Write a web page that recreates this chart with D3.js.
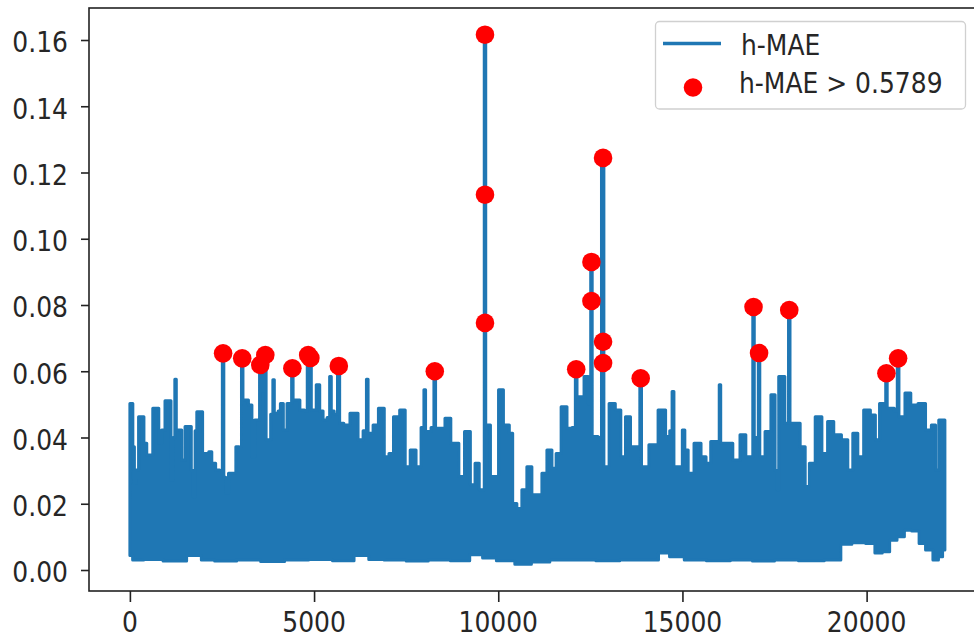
<!DOCTYPE html>
<html><head><meta charset="utf-8">
<script src="https://cdn.jsdelivr.net/npm/d3@7"></script>
<style>
html,body{margin:0;padding:0;background:#fff;overflow:hidden;}
svg{display:block;}
text{font-family:"DejaVu Sans",sans-serif;fill:#262626;}
</style></head>
<body>
<svg id="chart" width="974" height="639"></svg>
<script>
// ---- data ----
// upper contour of the h-MAE trace: [sample index, value]
const hmaeTop = [[0,0.0503],[60,0.0503],[100,0.0372],[145,0.0262],[200,0.0302],[272,0.0463],[345,0.0463],[417,0.0383],[499,0.0347],[590,0.0347],[653,0.0488],[753,0.0488],[817,0.0383],[908,0.0423],[998,0.0511],[1089,0.0511],[1143,0.0272],[1200,0.0400],[1240,0.0576],[1280,0.0423],[1361,0.0423],[1452,0.0332],[1543,0.0433],[1634,0.0433],[1700,0.0300],[1742,0.0221],[1800,0.0420],[1833,0.0478],[1933,0.0478],[2015,0.0352],[2105,0.0352],[2178,0.0357],[2269,0.0322],[2387,0.0302],[2490,0.0300],[2530,0.0654],[2570,0.0280],[2632,0.0232],[2723,0.0292],[2831,0.0292],[2922,0.0372],[3010,0.0370],[3049,0.0639],[3090,0.0513],[3170,0.0513],[3267,0.0498],[3358,0.0342],[3421,0.0453],[3500,0.0453],[3540,0.0619],[3600,0.0540],[3676,0.0649],[3720,0.0393],[3784,0.0393],[3860,0.0470],[3902,0.0574],[3940,0.0473],[3993,0.0473],[4060,0.0480],[4111,0.0503],[4220,0.0423],[4311,0.0503],[4370,0.0503],[4411,0.0609],[4450,0.0513],[4538,0.0513],[4692,0.0483],[4790,0.0480],[4840,0.0649],[4900,0.0640],[4950,0.0483],[4991,0.0483],[5127,0.0559],[5180,0.0480],[5309,0.0453],[5400,0.0460],[5445,0.0584],[5490,0.0480],[5600,0.0470],[5672,0.0616],[5717,0.0443],[5899,0.0438],[6050,0.0473],[6126,0.0473],[6262,0.0393],[6400,0.0420],[6443,0.0576],[6490,0.0413],[6534,0.0413],[6670,0.0438],[6824,0.0488],[6988,0.0342],[7079,0.0352],[7233,0.0463],[7415,0.0483],[7533,0.0312],[7687,0.0362],[7850,0.0312],[7960,0.0430],[8004,0.0544],[8050,0.0418],[8122,0.0418],[8230,0.0430],[8277,0.0604],[8320,0.0428],[8440,0.0428],[8667,0.0458],[8758,0.0383],[8876,0.0383],[8985,0.0282],[9184,0.0418],[9302,0.0257],[9438,0.0322],[9529,0.0242],[9600,0.0242],[9640,0.1616],[9680,0.0438],[9729,0.0438],[9847,0.0282],[9956,0.0282],[10060,0.0544],[10101,0.0544],[10180,0.0438],[10255,0.0438],[10346,0.0413],[10437,0.0201],[10573,0.0186],[10709,0.0242],[10845,0.0312],[10981,0.0227],[11117,0.0227],[11253,0.0292],[11389,0.0362],[11526,0.0307],[11616,0.0352],[11798,0.0493],[11934,0.0428],[12070,0.0430],[12116,0.0609],[12160,0.0523],[12252,0.0523],[12406,0.0584],[12490,0.0500],[12530,0.0930],[12570,0.0403],[12660,0.0403],[12760,0.0400],[12845,0.1244],[12890,0.0312],[12932,0.0312],[13087,0.0503],[13268,0.0483],[13386,0.0342],[13522,0.0463],[13658,0.0372],[13820,0.0372],[13867,0.0584],[13910,0.0312],[13976,0.0312],[14203,0.0378],[14475,0.0483],[14611,0.0403],[14700,0.0420],[14738,0.0539],[14800,0.0312],[14974,0.0312],[15020,0.0423],[15110,0.0362],[15201,0.0292],[15428,0.0383],[15582,0.0342],[15700,0.0322],[15836,0.0388],[15980,0.0388],[16018,0.0559],[16060,0.0383],[16263,0.0383],[16472,0.0332],[16653,0.0408],[16789,0.0342],[16890,0.0342],[16930,0.0794],[16970,0.0400],[17040,0.0400],[17080,0.0664],[17120,0.0342],[17152,0.0342],[17334,0.0418],[17470,0.0529],[17560,0.0300],[17588,0.0242],[17640,0.0584],[17700,0.0584],[17860,0.0443],[17900,0.0785],[17940,0.0443],[18105,0.0443],[18287,0.0372],[18378,0.0252],[18514,0.0322],[18695,0.0463],[18877,0.0352],[19004,0.0448],[19212,0.0408],[19421,0.0393],[19557,0.0302],[19693,0.0413],[19829,0.0342],[20011,0.0483],[20193,0.0468],[20283,0.0393],[20419,0.0503],[20500,0.0500],[20537,0.0594],[20580,0.0488],[20692,0.0488],[20810,0.0480],[20855,0.0639],[20900,0.0463],[20964,0.0463],[21118,0.0534],[21281,0.0498],[21509,0.0503],[21690,0.0423],[21826,0.0438],[21917,0.0302],[22000,0.0453],[22125,0.0453]];

// lower contour of the h-MAE trace: [sample index, value]
const hmaeLow = [[0,0.0044],[150,0.0030],[600,0.0032],[1200,0.0027],[1880,0.0044],[2000,0.0030],[2600,0.0027],[3200,0.0030],[3900,0.0026],[4500,0.0030],[5200,0.0032],[5800,0.0028],[6370,0.0044],[6600,0.0032],[7200,0.0030],[7800,0.0027],[8400,0.0030],[9000,0.0028],[9450,0.0046],[9700,0.0036],[10200,0.0028],[10700,0.0017],[11100,0.0024],[11700,0.0030],[12300,0.0030],[13000,0.0028],[13600,0.0030],[14200,0.0030],[14500,0.0051],[14800,0.0040],[15300,0.0030],[16000,0.0028],[16600,0.0030],[17200,0.0027],[17800,0.0030],[18500,0.0028],[19200,0.0030],[19400,0.0078],[19800,0.0082],[20150,0.0080],[20300,0.0051],[20550,0.0055],[20700,0.0090],[20950,0.0100],[21100,0.0120],[21350,0.0118],[21500,0.0080],[21700,0.0060],[21900,0.0030],[22000,0.0040],[22125,0.0060]];

// points above threshold
const anomalyIdx = [2530,3049,3540,3676,4411,4840,4900,5672,8277,9640,9640,9640,12116,12530,12530,12845,12845,12845,13867,16930,17080,17900,20537,20855];
const anomalyVal = [0.0654,0.0639,0.0619,0.0649,0.0609,0.0649,0.0640,0.0616,0.0600,0.1616,0.1133,0.0746,0.0606,0.0930,0.0812,0.1244,0.0689,0.0625,0.0579,0.0794,0.0655,0.0785,0.0594,0.0639];

const xTicks = [0,5000,10000,15000,20000];
const yTicks = [0,0.02,0.04,0.06,0.08,0.10,0.12,0.14,0.16];
const seriesName = "h-MAE";
const anomalyName = "h-MAE > 0.5789";

// ---- layout ----
const svg = d3.select("#chart");
const L = 89, T = 8, B = 591, R = 985.6;
const x = d3.scaleLinear().domain([-1110, 23230]).range([L, R]);
const y = d3.scaleLinear().domain([-0.00634, 0.16966]).range([B, T]);
const blue = "#1f77b4";

// trace
const outline = hmaeTop.concat(hmaeLow.slice().reverse());
const line = d3.line().x(d => x(d[0])).y(d => y(d[1])).curve(d3.curveStep);
svg.append("path")
  .attr("d", line(outline) + "Z")
  .attr("fill", blue).attr("stroke", blue)
  .attr("stroke-width", 3).attr("stroke-linejoin", "round");

// anomalies
svg.append("g").selectAll("circle").data(anomalyIdx).join("circle")
  .attr("cx", (d) => x(d)).attr("cy", (d, i) => y(anomalyVal[i]))
  .attr("r", 9.3).attr("fill", "#ff0000");

// frame
svg.append("rect").attr("x", L).attr("y", T).attr("width", R - L).attr("height", B - T)
  .attr("fill", "none").attr("stroke", "#222").attr("stroke-width", 1.6);

// axes (ticks)
const gx = svg.append("g").attr("transform", `translate(0,${B})`)
  .call(d3.axisBottom(x).tickValues(xTicks).tickSize(11).tickFormat(""));
const gy = svg.append("g").attr("transform", `translate(${L},0)`)
  .call(d3.axisLeft(y).tickValues(yTicks).tickSize(8).tickFormat(""));
[gx, gy].forEach(g => {
  g.select(".domain").remove();
  g.selectAll(".tick line").attr("stroke", "#222").attr("stroke-width", 1.6);
});

// tick labels
const fs = 25;
svg.append("g").selectAll("text").data(xTicks).join("text")
  .attr("transform", d => `translate(${x(d)},632) scale(1,1.1)`)
  .attr("text-anchor", "middle").attr("font-size", fs)
  .text(d => d3.format("d")(d));
svg.append("g").selectAll("text").data(yTicks).join("text")
  .attr("transform", d => `translate(68,${y(d) + 12.3}) scale(1,1.1)`)
  .attr("text-anchor", "end").attr("font-size", fs)
  .text(d => d3.format(".2f")(d));

// legend
const lg = svg.append("g");
lg.append("rect").attr("x", 655.5).attr("y", 21.5).attr("width", 310).attr("height", 87.5)
  .attr("rx", 4).attr("fill", "#fff").attr("fill-opacity", 0.8)
  .attr("stroke", "#d0d0d0").attr("stroke-width", 1.3);
lg.append("line").attr("x1", 663).attr("x2", 721).attr("y1", 43.5).attr("y2", 43.5)
  .attr("stroke", blue).attr("stroke-width", 3.3);
lg.append("text").attr("transform", "translate(741,55) scale(1,1.1)")
  .attr("font-size", fs).text(seriesName);
lg.append("circle").attr("cx", 693).attr("cy", 87.5).attr("r", 9.3).attr("fill", "#ff0000");
lg.append("text").attr("transform", "translate(739,93) scale(1,1.1)")
  .attr("font-size", fs).text(anomalyName);
</script>
</body></html>
